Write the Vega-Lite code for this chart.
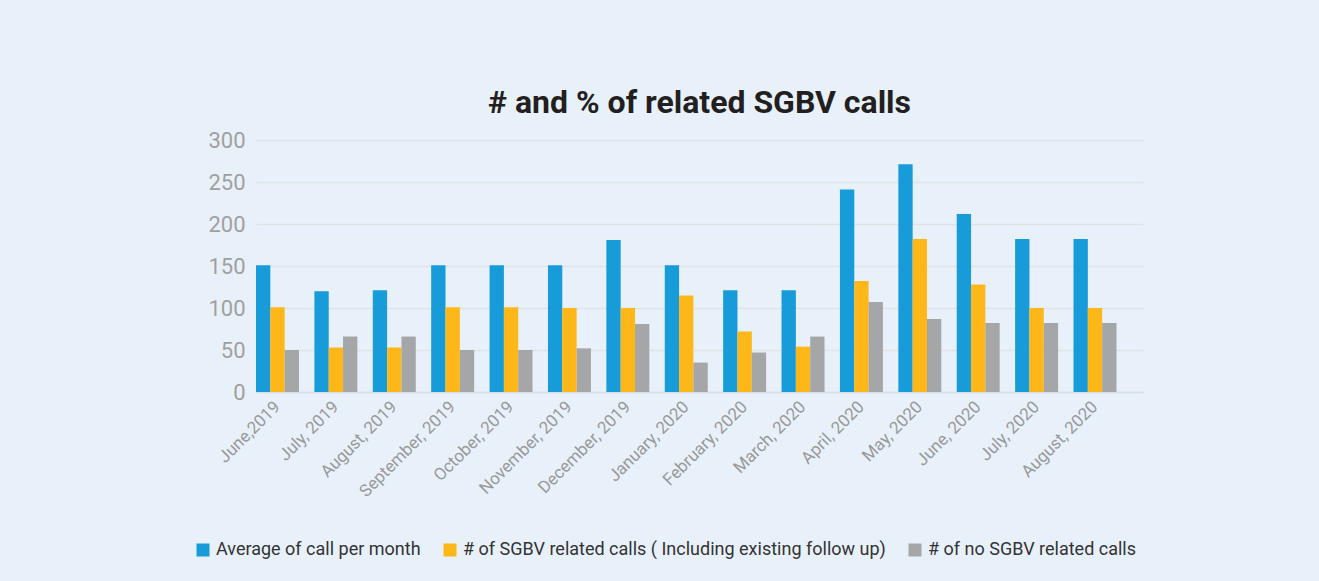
{
  "$schema": "https://vega.github.io/schema/vega-lite/v6.json",
  "autosize": {"type": "none"},
  "width": 887,
  "height": 252,
  "padding": {"left": 256, "top": 140, "right": 176, "bottom": 189},
  "background": "#E8F1FA",
  "config": {
    "font": "Roboto",
    "view": {"stroke": null},
    "title": {"font": "Roboto", "fontSize": 32, "fontWeight": "bold", "color": "#231F20", "anchor": "middle", "offset": 9}
  },
  "title": "# and % of related SGBV calls",
  "data": {
    "values": [
      {"month": "June,2019", "series": "Average of call per month", "value": 151},
      {"month": "June,2019", "series": "# of SGBV related calls ( Including existing follow up)", "value": 101},
      {"month": "June,2019", "series": "# of no SGBV related calls", "value": 50},
      {"month": "July, 2019", "series": "Average of call per month", "value": 120},
      {"month": "July, 2019", "series": "# of SGBV related calls ( Including existing follow up)", "value": 53},
      {"month": "July, 2019", "series": "# of no SGBV related calls", "value": 66},
      {"month": "August, 2019", "series": "Average of call per month", "value": 121},
      {"month": "August, 2019", "series": "# of SGBV related calls ( Including existing follow up)", "value": 53},
      {"month": "August, 2019", "series": "# of no SGBV related calls", "value": 66},
      {"month": "September, 2019", "series": "Average of call per month", "value": 151},
      {"month": "September, 2019", "series": "# of SGBV related calls ( Including existing follow up)", "value": 101},
      {"month": "September, 2019", "series": "# of no SGBV related calls", "value": 50},
      {"month": "October, 2019", "series": "Average of call per month", "value": 151},
      {"month": "October, 2019", "series": "# of SGBV related calls ( Including existing follow up)", "value": 101},
      {"month": "October, 2019", "series": "# of no SGBV related calls", "value": 50},
      {"month": "November, 2019", "series": "Average of call per month", "value": 151},
      {"month": "November, 2019", "series": "# of SGBV related calls ( Including existing follow up)", "value": 100},
      {"month": "November, 2019", "series": "# of no SGBV related calls", "value": 52},
      {"month": "December, 2019", "series": "Average of call per month", "value": 181},
      {"month": "December, 2019", "series": "# of SGBV related calls ( Including existing follow up)", "value": 100},
      {"month": "December, 2019", "series": "# of no SGBV related calls", "value": 81},
      {"month": "January, 2020", "series": "Average of call per month", "value": 151},
      {"month": "January, 2020", "series": "# of SGBV related calls ( Including existing follow up)", "value": 115},
      {"month": "January, 2020", "series": "# of no SGBV related calls", "value": 35},
      {"month": "February, 2020", "series": "Average of call per month", "value": 121},
      {"month": "February, 2020", "series": "# of SGBV related calls ( Including existing follow up)", "value": 72},
      {"month": "February, 2020", "series": "# of no SGBV related calls", "value": 47},
      {"month": "March, 2020", "series": "Average of call per month", "value": 121},
      {"month": "March, 2020", "series": "# of SGBV related calls ( Including existing follow up)", "value": 54},
      {"month": "March, 2020", "series": "# of no SGBV related calls", "value": 66},
      {"month": "April, 2020", "series": "Average of call per month", "value": 241},
      {"month": "April, 2020", "series": "# of SGBV related calls ( Including existing follow up)", "value": 132},
      {"month": "April, 2020", "series": "# of no SGBV related calls", "value": 107},
      {"month": "May, 2020", "series": "Average of call per month", "value": 271},
      {"month": "May, 2020", "series": "# of SGBV related calls ( Including existing follow up)", "value": 182},
      {"month": "May, 2020", "series": "# of no SGBV related calls", "value": 87},
      {"month": "June, 2020", "series": "Average of call per month", "value": 212},
      {"month": "June, 2020", "series": "# of SGBV related calls ( Including existing follow up)", "value": 128},
      {"month": "June, 2020", "series": "# of no SGBV related calls", "value": 82},
      {"month": "July, 2020", "series": "Average of call per month", "value": 182},
      {"month": "July, 2020", "series": "# of SGBV related calls ( Including existing follow up)", "value": 100},
      {"month": "July, 2020", "series": "# of no SGBV related calls", "value": 82},
      {"month": "August, 2020", "series": "Average of call per month", "value": 182},
      {"month": "August, 2020", "series": "# of SGBV related calls ( Including existing follow up)", "value": 100},
      {"month": "August, 2020", "series": "# of no SGBV related calls", "value": 82}
    ]
  },
  "mark": {"type": "bar"},
  "encoding": {
    "x": {
      "field": "month",
      "type": "nominal",
      "sort": null,
      "scale": {"paddingInner": 0.264, "paddingOuter": 0.227, "align": 0},
      "axis": {
        "title": null,
        "labelAngle": -45,
        "labelAlign": "right",
        "labelBaseline": "middle",
        "labelFontSize": 17,
        "labelColor": "#999999",
        "labelPadding": 12,
        "ticks": false,
        "domainColor": "#DADDE0",
        "domainWidth": 1.5
      }
    },
    "xOffset": {
      "field": "series",
      "type": "nominal",
      "sort": ["Average of call per month", "# of SGBV related calls ( Including existing follow up)", "# of no SGBV related calls"],
      "scale": {"paddingInner": 0, "paddingOuter": 0}
    },
    "y": {
      "field": "value",
      "type": "quantitative",
      "scale": {"domain": [0, 300], "nice": false},
      "axis": {
        "title": null,
        "values": [0, 50, 100, 150, 200, 250, 300],
        "labelFontSize": 22,
        "labelColor": "#A0A0A0",
        "labelPadding": 11,
        "ticks": false,
        "domain": false,
        "gridColor": "#DFE3E7",
        "gridWidth": 1.5
      }
    },
    "color": {
      "field": "series",
      "type": "nominal",
      "scale": {
        "domain": ["Average of call per month", "# of SGBV related calls ( Including existing follow up)", "# of no SGBV related calls"],
        "range": ["#189CD9", "#FDB718", "#A5A6A7"]
      },
      "legend": {
        "title": null,
        "orient": "none",
        "legendX": -62,
        "legendY": 401,
        "direction": "horizontal",
        "symbolType": "square",
        "symbolSize": 169,
        "symbolStrokeWidth": 0,
        "labelFontSize": 18,
        "labelColor": "#333333",
        "labelOffset": 4,
        "columnPadding": 20,
        "labelLimit": 600
      }
    }
  }
}
